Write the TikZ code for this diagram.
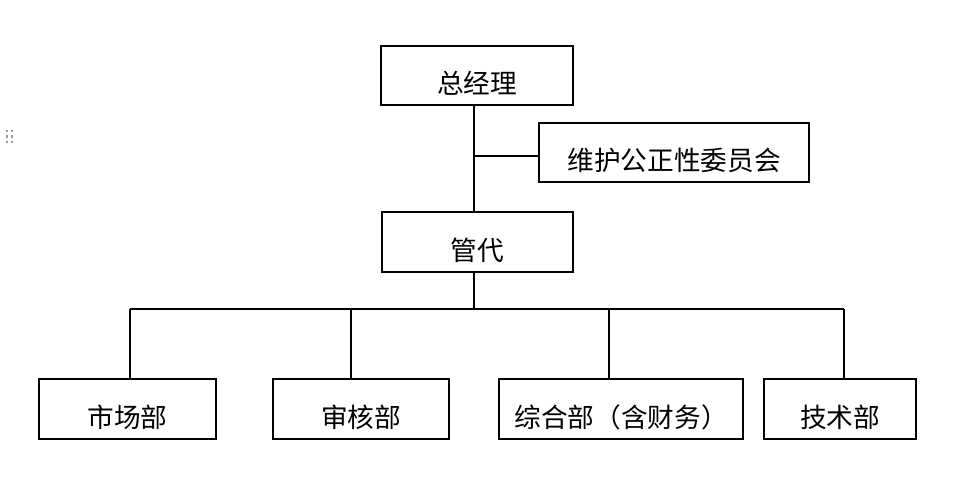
\documentclass[tikz,border=0pt]{standalone}
\usepackage{fontspec}
\usepackage{tikz}
\usetikzlibrary{positioning,calc}
\newfontfamily\cjkfont{Noto Sans CJK SC}
\definecolor{gripgray}{HTML}{9a9a9a}

\begin{document}
\begin{tikzpicture}[
  x=0.75pt, y=-0.75pt,
  orgbox/.style={rectangle, draw=black, line width=1.4pt, fill=white,
    minimum width=#1, minimum height=44.5pt, align=center,
    text height=27pt, text depth=0pt,
    font=\cjkfont\fontsize{20pt}{24pt}\selectfont},
  link/.style={draw=black, line width=1.4pt}
]
\useasboundingbox (0,0) rectangle (973,490);

% grip handle
\foreach \gx in {7,12}
  \foreach \gy in {131,136.5,142}
    \fill[gripgray] (\gx-1.3,\gy-1.3) rectangle (\gx+1.3,\gy+1.3);

% boxes
\node[orgbox=144pt] (zjl) at (477,75.5) {总经理};
\node[orgbox=202.5pt] (wyh) at (674,152.5) {维护公正性委员会};
\node[orgbox=143.25pt] (gd) at (477.5,242) {管代};
\node[orgbox=132.75pt] (scb) at (127.5,409) {市场部};
\node[orgbox=132pt] (shb) at (361,409) {审核部};
\node[orgbox=183pt] (zhb) at (621,409) {综合部（含财务）};
\node[orgbox=114pt] (jsb) at (840,409) {技术部};

% connectors
\coordinate (spine) at (474,0);
\coordinate (tap) at (474,156);
\coordinate (bus) at (474,309);
\draw[link] (zjl.south -| spine) -- (gd.north -| spine);
\draw[link] (tap) -- (tap -| wyh.west);
\draw[link] (gd.south -| spine) -- (bus);

\coordinate (d1) at (130,309);
\coordinate (d2) at (351,309);
\coordinate (d3) at (609,309);
\coordinate (d4) at (844,309);
\draw[link] (d1) -- (d4);
\draw[link] (d1) -- (d1 |- scb.north);
\draw[link] (d2) -- (d2 |- shb.north);
\draw[link] (d3) -- (d3 |- zhb.north);
\draw[link] (d4) -- (d4 |- jsb.north);
\end{tikzpicture}
\end{document}
